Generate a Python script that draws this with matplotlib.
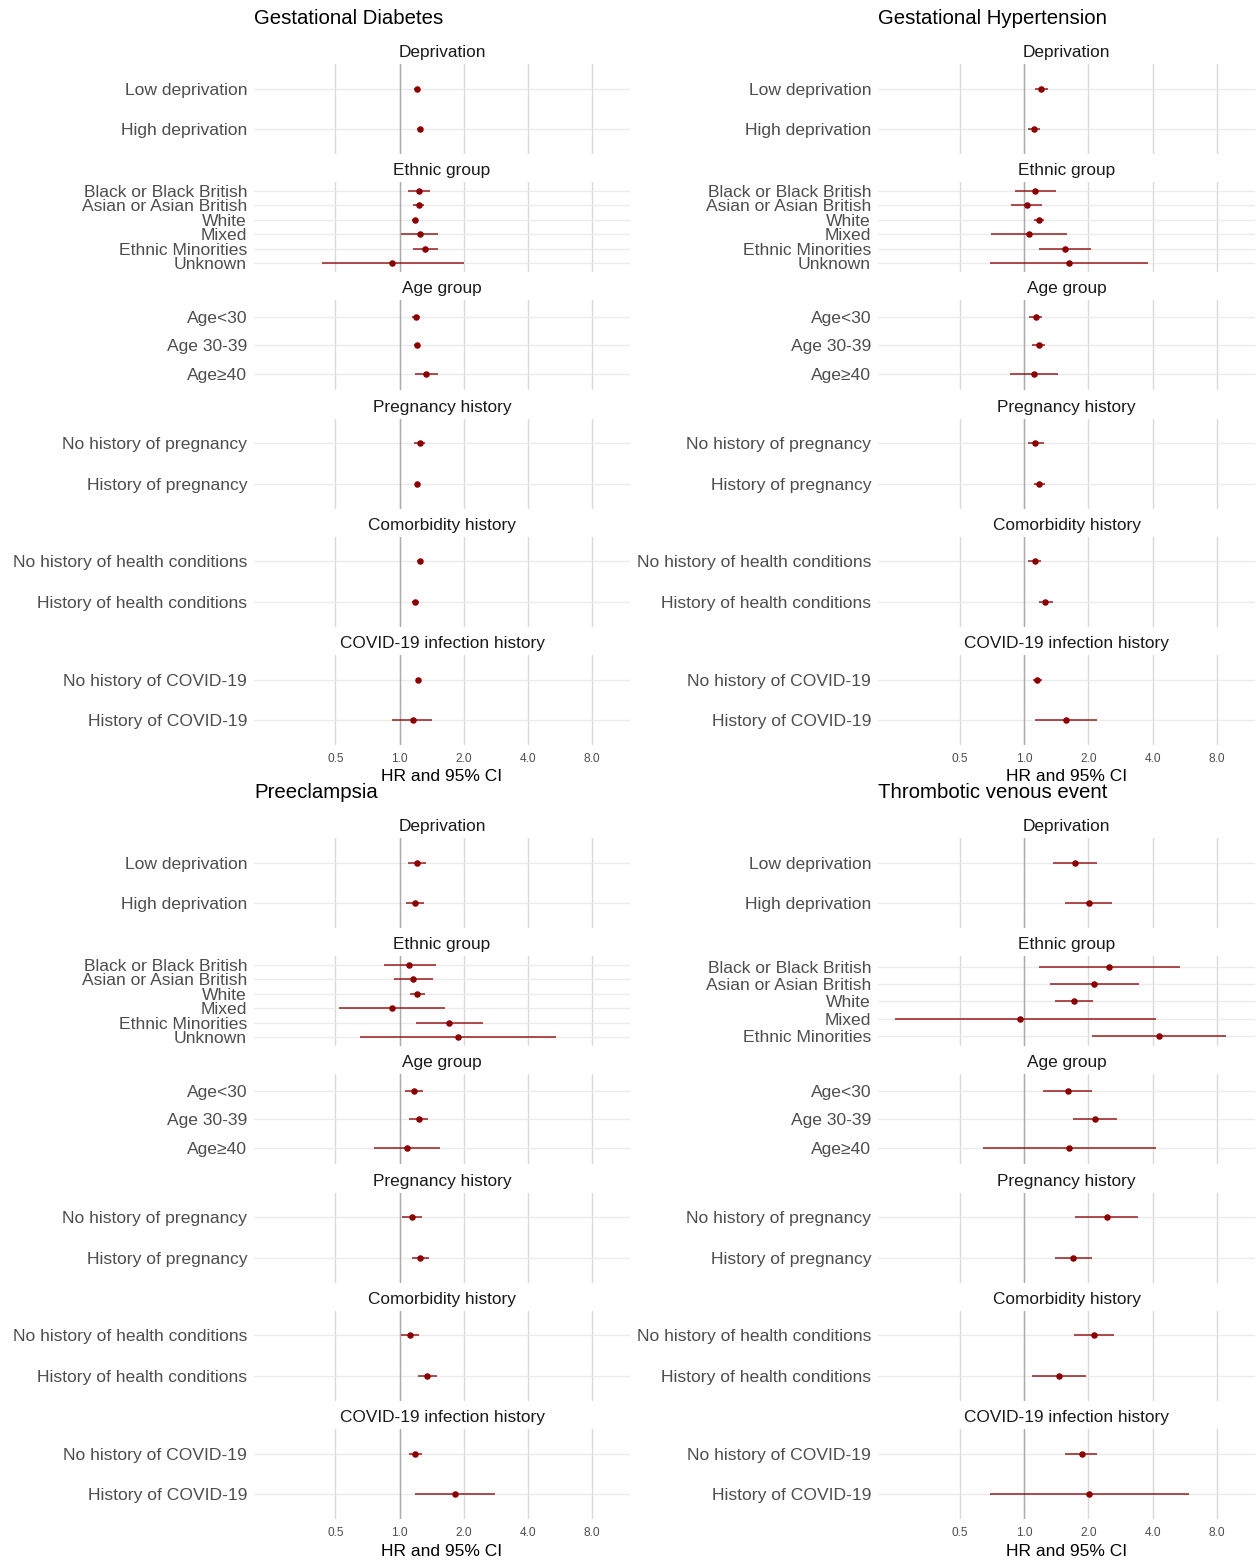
import numpy as np
import matplotlib.pyplot as plt

plt.rcParams['font.family'] = ['Liberation Sans', 'DejaVu Sans']

# subgroup facets and their levels (top to bottom)
groups = ["Deprivation", "Ethnic group", "Age group", "Pregnancy history",
          "Comorbidity history", "COVID-19 infection history"]
deprivation = ["Low deprivation", "High deprivation"]
ethnic = ["Black or Black British", "Asian or Asian British", "White", "Mixed",
          "Ethnic Minorities", "Unknown"]
ethnic_tve = ["Black or Black British", "Asian or Asian British", "White", "Mixed",
              "Ethnic Minorities"]
age = ["Age<30", "Age 30-39", "Age\u226540"]
pregnancy = ["No history of pregnancy", "History of pregnancy"]
comorbidity = ["No history of health conditions", "History of health conditions"]
covid = ["No history of COVID-19", "History of COVID-19"]

# Gestational diabetes
gd_hr = [1.20, 1.24, 1.23, 1.23, 1.18, 1.24, 1.32, 0.92, 1.19, 1.21, 1.33, 1.25, 1.21, 1.24, 1.18, 1.22, 1.15]
gd_lo = [1.17, 1.20, 1.09, 1.16, 1.14, 1.02, 1.16, 0.43, 1.14, 1.17, 1.18, 1.17, 1.18, 1.20, 1.14, 1.19, 0.92]
gd_hi = [1.24, 1.28, 1.39, 1.30, 1.21, 1.51, 1.51, 2.00, 1.25, 1.25, 1.51, 1.31, 1.25, 1.28, 1.23, 1.25, 1.42]

# Gestational hypertension
gh_hr = [1.20, 1.11, 1.13, 1.03, 1.17, 1.05, 1.56, 1.62, 1.14, 1.17, 1.11, 1.13, 1.18, 1.12, 1.26, 1.15, 1.58]
gh_lo = [1.12, 1.04, 0.91, 0.87, 1.11, 0.70, 1.18, 0.69, 1.06, 1.09, 0.86, 1.04, 1.11, 1.04, 1.17, 1.10, 1.13]
gh_hi = [1.29, 1.19, 1.41, 1.21, 1.24, 1.59, 2.06, 3.82, 1.22, 1.26, 1.44, 1.24, 1.26, 1.20, 1.36, 1.21, 2.20]

# Preeclampsia
pe_hr = [1.21, 1.18, 1.11, 1.16, 1.21, 0.92, 1.71, 1.88, 1.17, 1.23, 1.08, 1.14, 1.25, 1.12, 1.35, 1.18, 1.82]
pe_lo = [1.10, 1.07, 0.84, 0.94, 1.12, 0.52, 1.19, 0.65, 1.06, 1.11, 0.76, 1.03, 1.14, 1.02, 1.22, 1.11, 1.18]
pe_hi = [1.33, 1.30, 1.48, 1.44, 1.31, 1.63, 2.47, 5.41, 1.29, 1.36, 1.55, 1.27, 1.37, 1.23, 1.50, 1.27, 2.80]

# Thrombotic venous event (no "Unknown" ethnic group)
tve_hr = [1.73, 2.01, 2.51, 2.13, 1.72, 0.96, 4.27, 1.60, 2.15, 1.62, 2.45, 1.70, 2.13, 1.46, 1.86, 2.02]
tve_lo = [1.37, 1.56, 1.17, 1.32, 1.40, 0.25, 2.07, 1.23, 1.70, 0.64, 1.73, 1.39, 1.72, 1.09, 1.56, 0.69]
tve_hi = [2.19, 2.58, 5.37, 3.44, 2.10, 4.13, 8.78, 2.07, 2.72, 4.13, 3.43, 2.07, 2.65, 1.95, 2.20, 5.90]

outcomes = [
    ("Gestational Diabetes", [deprivation, ethnic, age, pregnancy, comorbidity, covid], gd_hr, gd_lo, gd_hi),
    ("Gestational Hypertension", [deprivation, ethnic, age, pregnancy, comorbidity, covid], gh_hr, gh_lo, gh_hi),
    ("Preeclampsia", [deprivation, ethnic, age, pregnancy, comorbidity, covid], pe_hr, pe_lo, pe_hi),
    ("Thrombotic venous event", [deprivation, ethnic_tve, age, pregnancy, comorbidity, covid], tve_hr, tve_lo, tve_hi),
]

xticks = [0.5, 1.0, 2.0, 4.0, 8.0]
W, H = 1259, 1562
fig = plt.figure(figsize=(W / 100, H / 100), dpi=100)

col_x = [(254, 630), (878, 1255)]
block_top = [64, 838]
step, ph = 118.2, 90

for k, (title, levels, hr, lo, hi) in enumerate(outcomes):
    x0, x1 = col_x[k % 2]
    top0 = block_top[k // 2]
    fig.text(x0 / W, 1 - (top0 - 45) / H, title, fontsize=14.7,
             ha='left', va='center', color='black')
    i0 = 0
    for j, (grp, labs) in enumerate(zip(groups, levels)):
        n = len(labs)
        t = top0 + j * step
        ax = fig.add_axes([x0 / W, 1 - (t + ph) / H, (x1 - x0) / W, ph / H])
        ax.set_xscale('log', base=2)
        ax.set_xlim(2 ** -2.27, 2 ** 3.59)
        ax.set_ylim(n - 1 + 0.6, -0.6)
        for s in ax.spines.values():
            s.set_visible(False)
        y = np.arange(n)
        for v in xticks:
            ax.axvline(v, color='#d9d9d9', lw=1.0, zorder=0)
        ax.axvline(1.0, color='#ababab', lw=1.0, zorder=1)
        for yy in y:
            ax.axhline(yy, color='#ebebeb', lw=1.0, zorder=0)
        h = np.array(hr[i0:i0 + n])
        l = np.array(lo[i0:i0 + n])
        u = np.array(hi[i0:i0 + n])
        ax.hlines(y, l, u, color='#8b0000', alpha=0.75, lw=1.3, zorder=2)
        ax.scatter(h, y, s=22, color='#8b0000', zorder=3, linewidths=0)
        i0 += n
        ax.set_yticks(y)
        ax.set_yticklabels(labs, fontsize=12.6, color='#4d4d4d')
        ax.tick_params(axis='both', length=0, pad=5)
        ax.set_xticks(xticks)
        ax.minorticks_off()
        if j == len(groups) - 1:
            ax.set_xticklabels([f"{v:.1f}" for v in xticks], fontsize=8.6, color='#4d4d4d')
            ax.tick_params(axis='x', pad=6)
            ax.set_xlabel("HR and 95% CI", fontsize=12.5, labelpad=3)
        else:
            ax.set_xticklabels([])
        ax.set_title(grp, fontsize=12.4, color='#1a1a1a', pad=5)

fig.savefig('out.png', dpi=100)
